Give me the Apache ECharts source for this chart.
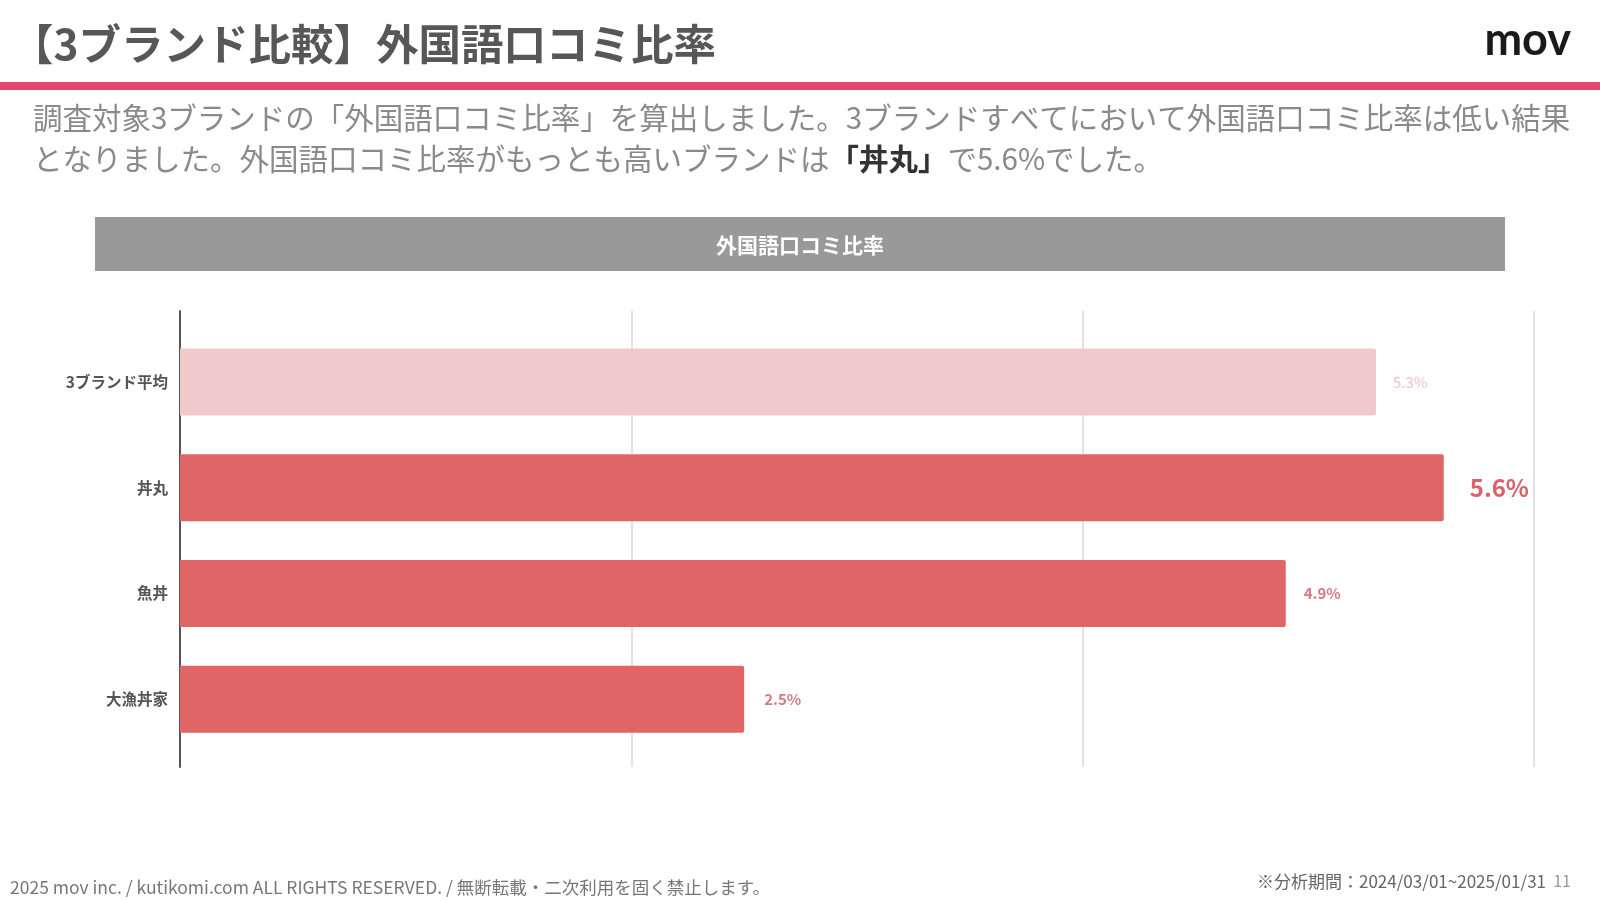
<!DOCTYPE html>
<html>
<head>
<meta charset="utf-8">
<script src="https://cdn.jsdelivr.net/npm/echarts@6/dist/echarts.min.js"></script>
<style>
html,body{margin:0;padding:0;background:#fff;}
#c{width:1600px;height:901px;}
</style>
</head>
<body>
<div id="c"></div>
<script>
// ---- data ----
const categories = ['3ブランド平均', '丼丸', '魚丼', '大漁丼家'];
const values = [5.3, 5.6, 4.9, 2.5];
const xTicks = [0, 2, 4, 6];

const titleText = '【3ブランド比較】外国語口コミ比率';
const paraLine1 = '調査対象3ブランドの「外国語口コミ比率」を算出しました。3ブランドすべてにおいて外国語口コミ比率は低い結果';
const paraLine2a = 'となりました。外国語口コミ比率がもっとも高いブランドは';
const paraLine2b = '「丼丸」';
const paraLine2c = 'で5.6%でした。';
const bandText = '外国語口コミ比率';
const footerLeft = '2025 mov inc. / kutikomi.com ALL RIGHTS RESERVED. / 無断転載・二次利用を固く禁止します。';
const footerRight = '※分析期間：2024/03/01~2025/01/31';
const pageNo = '11';

// ---- styles (kept separate from data) ----
const barColors = ['#f2c9ca', '#df6566', '#df6566', '#df6566'];
const labelStyles = [
  {color: '#f0c4c9', fontSize: 15, fontWeight: 'normal', distance: 17},
  {color: '#d9626c', fontSize: 24, fontWeight: 'bold', distance: 26},
  {color: '#d87a85', fontSize: 15, fontWeight: 'bold', distance: 18},
  {color: '#d87a85', fontSize: 15, fontWeight: 'bold', distance: 20}
];

const JP = '"Noto Sans CJK JP", "Noto Sans", sans-serif';

const chart = echarts.init(document.getElementById('c'), null, {renderer: 'canvas'});

const barData = values.map((v, i) => ({
  value: v,
  itemStyle: {color: barColors[i]},
  label: {
    show: true, position: 'right',
    distance: labelStyles[i].distance,
    color: labelStyles[i].color,
    fontSize: labelStyles[i].fontSize,
    fontWeight: labelStyles[i].fontWeight,
    fontFamily: JP,
    formatter: p => p.value.toFixed(1) + '%'
  }
}));

const option = {
  animation: false,
  backgroundColor: '#ffffff',
  grid: [
    {left: 180, right: 66, top: 311, bottom: 134},
    {left: 180, right: 66, top: 329, bottom: 149}
  ],
  xAxis: [
    {
      gridIndex: 0, type: 'value', min: xTicks[0], max: xTicks[xTicks.length - 1], interval: 2,
      axisLine: {show: false}, axisTick: {show: false}, axisLabel: {show: false},
      splitLine: {show: true, lineStyle: {color: '#e2e2e2', width: 2}}
    },
    {
      gridIndex: 1, type: 'value', min: xTicks[0], max: xTicks[xTicks.length - 1], interval: 2,
      show: false, splitLine: {show: false}
    }
  ],
  yAxis: [
    {
      gridIndex: 0, type: 'category', data: categories, inverse: true,
      axisLine: {show: true, lineStyle: {color: '#555555', width: 2}},
      axisTick: {show: false}, axisLabel: {show: false}, splitLine: {show: false}
    },
    {
      gridIndex: 1, type: 'category', data: categories, inverse: true,
      axisLine: {show: false}, axisTick: {show: false},
      axisLabel: {
        show: true, margin: 12, color: '#555555', fontSize: 15.5, fontWeight: 'bold', fontFamily: JP
      }
    }
  ],
  series: [
    {
      type: 'bar', xAxisIndex: 1, yAxisIndex: 1,
      data: barData, barWidth: 67,
      itemStyle: {borderRadius: [0, 2, 2, 0]}
    }
  ],
  graphic: [
    // title
    {type: 'text', left: 11, top: 23, style: {
      text: titleText, fill: '#575757', font: 'bold 42.5px ' + JP
    }},
    // logo
    {type: 'text', right: 29, top: 18, style: {
      text: 'mov', fill: '#1a1a1a', font: 'bold 45px Lato, "Open Sans", sans-serif'
    }},
    // pink rule
    {type: 'rect', shape: {x: 0, y: 82, width: 1600, height: 8}, style: {fill: '#e0486d'}},
    // paragraph
    {type: 'text', left: 33, top: 103, style: {
      text: paraLine1, fill: '#8a8a8a', font: '29.5px ' + JP
    }},
    {type: 'text', left: 33, top: 144, style: {
      text: '{a|' + paraLine2a + '}{b|' + paraLine2b + '}{a|' + paraLine2c + '}',
      rich: {
        a: {fill: '#8a8a8a', font: '29.5px ' + JP},
        b: {fill: '#333333', font: 'bold 29.5px ' + JP}
      }
    }},
    // gray band
    {type: 'rect', shape: {x: 95, y: 217, width: 1410, height: 54}, style: {fill: '#999999'}},
    {type: 'text', x: 800, y: 245, style: {
      text: bandText, fill: '#ffffff', font: 'bold 21px ' + JP, align: 'center', verticalAlign: 'middle'
    }},
    // footer
    {type: 'text', x: 10, y: 887, style: {
      text: footerLeft, fill: '#777777', font: '17.5px ' + JP, verticalAlign: 'middle'
    }},
    {type: 'text', x: 1546, y: 882, style: {
      text: footerRight, fill: '#666666', font: '17px ' + JP, align: 'right', verticalAlign: 'middle'
    }},
    {type: 'text', x: 1571, y: 881, style: {
      text: pageNo, fill: '#999999', font: '16px ' + JP, align: 'right', verticalAlign: 'middle'
    }}
  ]
};

chart.setOption(option);
</script>
</body>
</html>
